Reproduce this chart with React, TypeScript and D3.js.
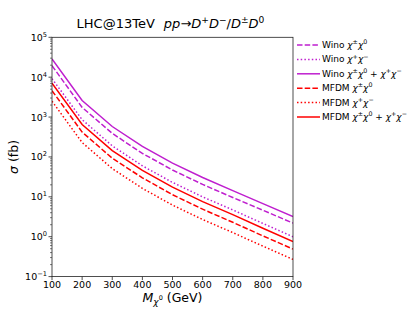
import React from 'react';
import * as d3 from 'd3';

// masses (GeV) and cross sections (fb)
const masses = [100, 200, 300, 400, 500, 600, 700, 800, 900];
const winoCN = [19500, 1750, 390, 123, 47, 20.5, 9.6, 4.6, 2.2];
const winoCC = [9200, 860, 190, 60, 23, 10, 4.7, 2.15, 1.0];
const winoTot = [28700, 2610, 580, 183, 70, 30.5, 14.3, 6.75, 3.2];
const mfdmCN = [4600, 420, 93, 30, 11.3, 4.9, 2.3, 1.05, 0.49];
const mfdmCC = [2500, 230, 51, 16.3, 6.2, 2.7, 1.27, 0.58, 0.27];
const mfdmTot = [7100, 650, 144, 46.3, 17.5, 7.6, 3.57, 1.63, 0.76];

const xTicks = [100, 200, 300, 400, 500, 600, 700, 800, 900];
const yExps = [-1, 0, 1, 2, 3, 4, 5];

const MAG = '#bf1fcf';
const RED = '#ff0000';
const DASH = '5.5,2.2';
const DOT = '1.5,2.2';

type Part = { t: string; it?: boolean; sup?: boolean; sub?: boolean; dx?: number };

const mathFont = 'DejaVu Sans, sans-serif';

// tiny mathtext-ish renderer with sup/sub tspans
const Tex = ({ parts, size }: { parts: Part[]; size: number }) => {
  let shift = 0;
  return (
    <>
      {parts.map((p, i) => {
        const target = p.sup ? -0.42 * size : p.sub ? 0.22 * size : 0;
        const dy = target - shift;
        shift = target;
        return (
          <tspan
            key={i}
            dy={dy}
            dx={p.dx}
            fontSize={p.sup || p.sub ? size * 0.7 : size}
            fontStyle={p.it ? 'italic' : 'normal'}
          >
            {p.t}
          </tspan>
        );
      })}
    </>
  );
};

const chi = (a: string): Part[] => [{ t: 'χ', it: true }, { t: a, sup: true }];

const series = [
  { name: 'Wino ', label: [...chi('±'), ...chi('0')], vals: winoCN, color: MAG, dash: DASH },
  { name: 'Wino ', label: [...chi('+'), ...chi('−')], vals: winoCC, color: MAG, dash: DOT },
  { name: 'Wino ', label: [...chi('±'), ...chi('0'), { t: ' + ' }, ...chi('+'), ...chi('−')], vals: winoTot, color: MAG, dash: '' },
  { name: 'MFDM ', label: [...chi('±'), ...chi('0')], vals: mfdmCN, color: RED, dash: DASH },
  { name: 'MFDM ', label: [...chi('+'), ...chi('−')], vals: mfdmCC, color: RED, dash: DOT },
  { name: 'MFDM ', label: [...chi('±'), ...chi('0'), { t: ' + ' }, ...chi('+'), ...chi('−')], vals: mfdmTot, color: RED, dash: '' },
];

export default function App() {
  const W = 415, H = 311;
  const left = 52, right = 293, top = 37.3, bottom = 276.6;
  const x = d3.scaleLinear().domain([100, 900]).range([left, right]);
  const y = d3.scaleLog().domain([0.1, 1e5]).range([bottom, top]);

  const line = d3
    .line<number>()
    .x((_, i) => x(masses[i]))
    .y((d) => y(d));

  const minors: number[] = [];
  for (let e = -1; e < 5; e++) for (let k = 2; k <= 9; k++) minors.push(k * Math.pow(10, e));

  const tickColor = '#222';

  return (
    <div style={{ position: 'absolute', left: 0, top: 0 }}>
      <svg width={W} height={H} fontFamily={mathFont} style={{ whiteSpace: 'pre' }}>
        <rect width={W} height={H} fill="#fff" />
        <defs>
          <clipPath id="plot">
            <rect x={left} y={top} width={right - left} height={bottom - top} />
          </clipPath>
        </defs>
        <g clipPath="url(#plot)">
          {series.map((s, i) => (
            <path
              key={i}
              d={line(s.vals) || ''}
              fill="none"
              stroke={s.color}
              strokeWidth={1.5}
              strokeDasharray={s.dash || undefined}
            />
          ))}
        </g>
        {/* frame */}
        <rect x={left} y={top} width={right - left} height={bottom - top} fill="none" stroke={tickColor} strokeWidth={0.8} />
        {/* x ticks */}
        {xTicks.map((t) => (
          <g key={t}>
            <line x1={x(t)} x2={x(t)} y1={bottom} y2={bottom + 3.5} stroke={tickColor} strokeWidth={0.8} />
            <text x={x(t)} y={288} textAnchor="middle" fontSize={9.5} fill="#000">
              {t}
            </text>
          </g>
        ))}
        {/* y ticks */}
        {yExps.map((e) => (
          <g key={e}>
            <line x1={left - 3.5} x2={left} y1={y(Math.pow(10, e))} y2={y(Math.pow(10, e))} stroke={tickColor} strokeWidth={0.8} />
            <text x={left - 5} y={y(Math.pow(10, e)) + 3.5} textAnchor="end" fontSize={9.5} fill="#000">
              <Tex size={9.5} parts={[{ t: '10' }, { t: e < 0 ? '−' + Math.abs(e) : String(e), sup: true }]} />
            </text>
          </g>
        ))}
        {minors.map((m, i) => (
          <line key={i} x1={left - 2} x2={left} y1={y(m)} y2={y(m)} stroke={tickColor} strokeWidth={0.6} />
        ))}
        {/* title */}
        <text x={(left + right) / 2 - 2} y={28} textAnchor="middle" fontSize={13} fill="#000">
          <Tex
            size={13}
            parts={[
              { t: 'LHC@13TeV' },
              { t: 'pp', it: true, dx: 9 },
              { t: '→' },
              { t: 'D', it: true },
              { t: '+', sup: true },
              { t: 'D', it: true },
              { t: '−', sup: true },
              { t: '/' },
              { t: 'D', it: true },
              { t: '±', sup: true },
              { t: 'D', it: true },
              { t: '0', sup: true },
            ]}
          />
        </text>
        {/* axis labels */}
        <text x={(left + right) / 2} y={302} textAnchor="middle" fontSize={12.5} fill="#000">
          <tspan fontStyle="italic">M</tspan>
          <tspan dy={3} fontSize={9} fontStyle="italic">χ</tspan>
          <tspan dy={-5} fontSize={6.5}>0</tspan>
          <tspan dy={2}> (GeV)</tspan>
        </text>
        <text transform={`translate(18,${(top + bottom) / 2}) rotate(-90)`} textAnchor="middle" fontSize={12.5} fill="#000">
          <tspan fontStyle="italic">σ</tspan> (fb)
        </text>
        {/* legend */}
        {series.map((s, i) => {
          const ly = 45 + i * 14.4;
          return (
            <g key={i}>
              <line x1={297} x2={320} y1={ly} y2={ly} stroke={s.color} strokeWidth={1.5} strokeDasharray={s.dash || undefined} />
              <text x={322} y={ly + 3} fontSize={9} fill="#000">
                <Tex size={9} parts={[{ t: s.name }, ...s.label]} />
              </text>
            </g>
          );
        })}
      </svg>
    </div>
  );
}
